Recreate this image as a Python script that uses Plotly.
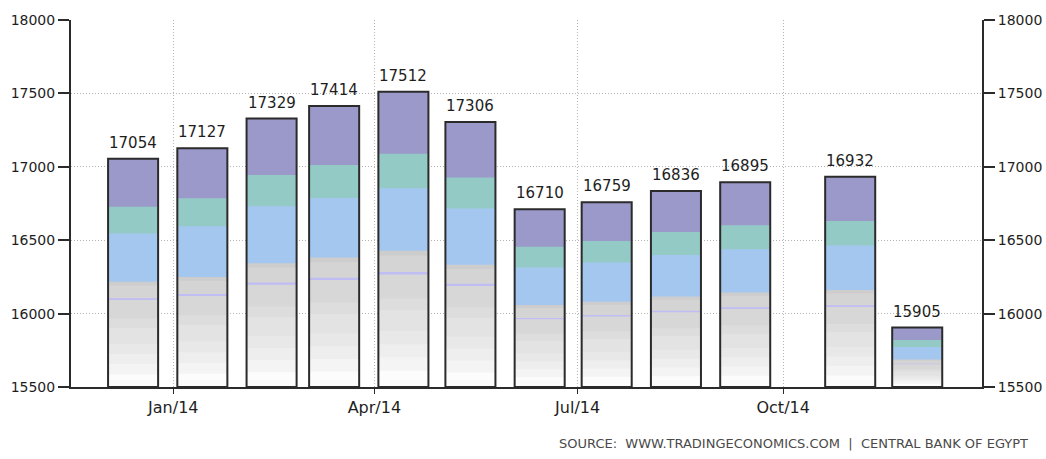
import plotly.graph_objects as go

# ---- data ----
dates = ["2013-12-14", "2014-01-14", "2014-02-14", "2014-03-14", "2014-04-14",
         "2014-05-14", "2014-06-14", "2014-07-14", "2014-08-14", "2014-09-14",
         "2014-10-31", "2014-11-30"]
values = [17054, 17127, 17329, 17414, 17512, 17306, 16710, 16759, 16836, 16895,
          16932, 15905]
y_ticks = [15500, 16000, 16500, 17000, 17500, 18000]
source_text = "SOURCE:  WWW.TRADINGECONOMICS.COM  |  CENTRAL BANK OF EGYPT"

# ---- style ----
BASE = 15500
BAR_W = 22.4 * 86400000  # ms
# gradient bands: (fraction from top where band starts, colour); each band runs to the base
bands = [
    (0.000, "#9b99c9"),
    (0.210, "#94cac6"),
    (0.327, "#a4c7f0"),
    (0.539, "#cdcdcd"),
    (0.555, "#d4d4d4"),
    (0.611, "#bfbdf3"),
    (0.619, "#d7d7d7"),
    (0.700, "#dddddd"),
    (0.740, "#e3e3e3"),
    (0.810, "#e8e8e8"),
    (0.855, "#eeeeee"),
    (0.900, "#f4f4f4"),
    (0.945, "#fcfcfc"),
]
FONT = "DejaVu Sans"
DARK = "#2b2b2b"
GRID = "#b4b4b4"

fig = go.Figure()
heights = [v - BASE for v in values]
for ft, col in bands:
    fig.add_trace(go.Bar(
        x=dates,
        base=[BASE] * len(values),
        y=[(1 - ft) * h for h in heights],
        width=BAR_W,
        marker=dict(color=col, line=dict(width=0)),
        hoverinfo="skip", showlegend=False,
    ))

# outline
fig.add_trace(go.Bar(
    x=dates, base=[BASE] * len(values), y=heights, width=BAR_W,
    marker=dict(color="rgba(0,0,0,0)", line=dict(width=2, color=DARK)),
    hoverinfo="skip", showlegend=False,
))

# dummy trace for right axis
fig.add_trace(go.Scatter(x=[dates[0]], y=[values[0]], yaxis="y2", mode="markers",
                         marker=dict(opacity=0), hoverinfo="skip", showlegend=False))

for d, v in zip(dates, values):
    fig.add_annotation(x=d, y=v, text=str(v), showarrow=False, yanchor="bottom",
                       yshift=5, font=dict(family=FONT, size=15, color="#1e1e1e"))

fig.add_annotation(xref="paper", yref="paper", x=1.0527, y=-0.154,
                   xanchor="right", yanchor="middle", text=source_text,
                   showarrow=False, font=dict(family=FONT, size=13, color="#4a4a4a"))

yax = dict(range=[15500, 18000], tickvals=y_ticks, tickformat="d",
           showline=True, linecolor=DARK, automargin=False,
           linewidth=2, ticks="outside", ticklen=11, tickwidth=2, tickcolor=DARK,
           tickfont=dict(family=FONT, size=14, color="#1e1e1e"),
           showgrid=True, gridcolor=GRID, griddash="1px,2px", gridwidth=1,
           zeroline=False, fixedrange=True)

fig.update_layout(
    width=1046, height=459, autosize=False,
    margin=dict(l=71, r=64, t=20, b=72),
    paper_bgcolor="white", plot_bgcolor="white",
    barmode="overlay",
    xaxis=dict(type="date", range=["2013-11-16 05:00", "2014-12-29"],
               tick0="2014-01-01", dtick="M3", tickformat="%b/%y",
               showline=True, linecolor=DARK, linewidth=2, automargin=False,
               ticks="outside", ticklen=5, tickwidth=1, tickcolor=DARK,
               tickfont=dict(family=FONT, size=16, color="#1e1e1e"),
               showgrid=True, gridcolor=GRID, griddash="1px,2px", gridwidth=1,
               zeroline=False, fixedrange=True),
    yaxis=yax,
    yaxis2=dict(yax, overlaying="y", side="right", showgrid=False),
)

fig.write_html("out.html",
               config={"displayModeBar": False, "responsive": False},
               post_script="document.body.style.margin='0';document.body.style.overflow='hidden';")
